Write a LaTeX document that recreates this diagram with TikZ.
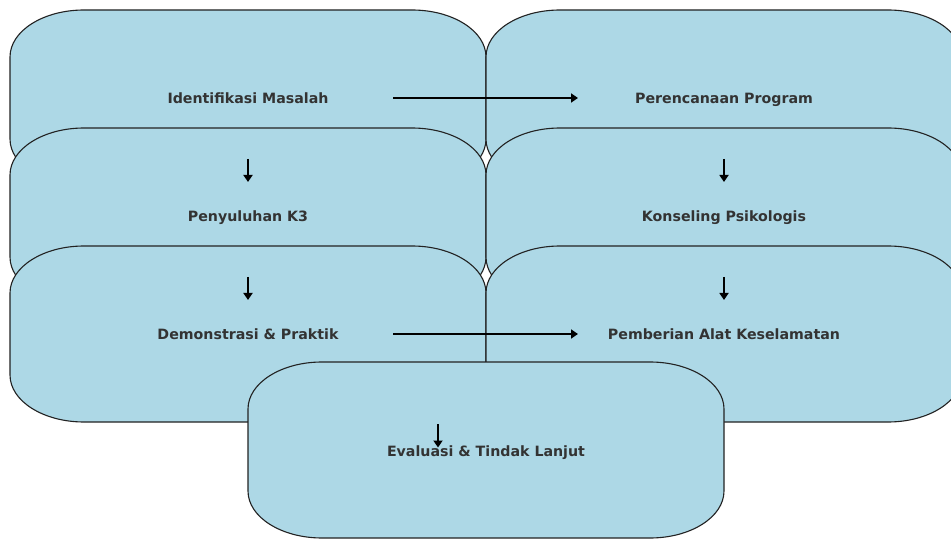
\documentclass[tikz,border=0pt]{standalone}
\usepackage{fontspec}
\setmainfont{DejaVu Sans}
\usetikzlibrary{calc,arrows.meta}
\pgfdeclarelayer{background}
\pgfsetlayers{background,main}
\definecolor{boxfill}{HTML}{ADD8E6}
\definecolor{boxline}{HTML}{222222}
\definecolor{txt}{HTML}{333333}
\tikzset{
  lbl/.style={text=txt, font=\bfseries\fontsize{14.2}{16}\selectfont, text height=10.3pt, text depth=0pt, inner sep=0pt},
  boxshape/.style={fill=boxfill, draw=boxline, line width=1.1pt},
  arr/.style={draw=black, line width=2pt, -{Triangle[length=7pt,width=9pt]}}
}
% elliptical-corner box around a named point
\newcommand\ovalbox[1]{%
  \begin{pgfonlayer}{background}
  \draw[boxshape] ($(#1)+(-164,88)$) -- ++(328,0)
     arc[start angle=90,end angle=0,x radius=74,y radius=47] -- ++(0,-82)
     arc[start angle=0,end angle=-90,x radius=74,y radius=47] -- ++(-328,0)
     arc[start angle=-90,end angle=-180,x radius=74,y radius=47] -- ++(0,82)
     arc[start angle=180,end angle=90,x radius=74,y radius=47] -- cycle;
  \end{pgfonlayer}}
\begin{document}
\begin{tikzpicture}[x=1pt,y=1pt]
\begin{pgfonlayer}{background}
\fill[white] (0,0) rectangle (951,539);
\end{pgfonlayer}
\clip (0,0) rectangle (951,539);
\node[lbl] (n1) at (248,441) {Identifikasi Masalah};
\ovalbox{n1}
\node[lbl] (n2) at (724,441) {Perencanaan Program};
\ovalbox{n2}
\node[lbl] (n3) at (248,323) {Penyuluhan K3};
\ovalbox{n3}
\node[lbl] (n4) at (724,323) {Konseling Psikologis};
\ovalbox{n4}
\node[lbl] (n5) at (248,205) {Demonstrasi \& Praktik};
\ovalbox{n5}
\node[lbl] (n6) at (724,205) {Pemberian Alat Keselamatan};
\ovalbox{n6}
\node[lbl] (n7) at (486,87.5) {Evaluasi \& Tindak Lanjut};
\coordinate (b7) at (486,89);
\ovalbox{b7}
% arrow end points
\coordinate (e7a) at ($(n7)+(-48,27.5)$);
\coordinate (e7b) at ($(n7)+(-48,4)$);
\draw[arr] ($(n1)+(145,0)$) -- ($(n2)+(-146,0)$);
\draw[arr] ($(n3)+(0,57)$) -- ($(n3)+(0,34)$);
\draw[arr] ($(n4)+(0,57)$) -- ($(n4)+(0,34)$);
\draw[arr] ($(n5)+(0,57)$) -- ($(n5)+(0,34)$);
\draw[arr] ($(n6)+(0,57)$) -- ($(n6)+(0,34)$);
\draw[arr] ($(n5)+(145,0)$) -- ($(n6)+(-146,0)$);
\draw[arr] (e7a) -- (e7b);
\end{tikzpicture}
\end{document}
